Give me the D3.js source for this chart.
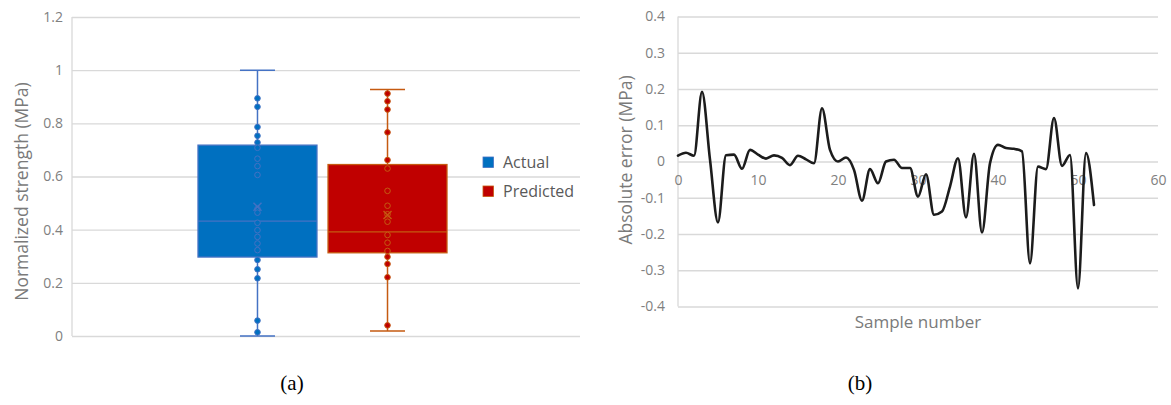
<!DOCTYPE html>
<html>
<head>
<meta charset="utf-8">
<script src="https://cdn.jsdelivr.net/npm/d3@7"></script>
<style>
  body { margin: 0; background: #ffffff; }
  svg { display: block; }
</style>
</head>
<body>
<svg id="fig" width="1171" height="405"></svg>
<script>
// ---------- Panel (a): box plot of normalized strength ----------
const boxSeries = ["Actual", "Predicted"];
const boxMin    = [0.000, 0.019];
const boxQ1     = [0.297, 0.313];
const boxMedian = [0.432, 0.392];
const boxQ3     = [0.718, 0.645];
const boxMax    = [1.000, 0.927];
const boxMean   = [0.486, 0.455];

const actualPoints = [0.894, 0.862, 0.786, 0.753, 0.728, 0.708, 0.667, 0.639, 0.606,
  0.478, 0.464, 0.426, 0.398, 0.373, 0.348, 0.323, 0.286, 0.251, 0.217, 0.058, 0.014];
const predictedPoints = [0.912, 0.883, 0.852, 0.766, 0.662, 0.630, 0.546, 0.490, 0.458,
  0.430, 0.380, 0.351, 0.320, 0.298, 0.271, 0.221, 0.040];

const strengthTicks = [0, 0.2, 0.4, 0.6, 0.8, 1.0, 1.2];
const strengthTickLabels = ["0", "0.2", "0.4", "0.6", "0.8", "1", "1.2"];

// ---------- Panel (b): absolute error per sample ----------
const sampleIndex = d3.range(0, 53);
const errorValues = [
  0.016, 0.024, 0.016, 0.192, 0.005, -0.168, 0.017, 0.019, -0.020, 0.032,
  0.019, 0.008, 0.017, 0.010, -0.010, 0.016, 0.006, -0.005, 0.147, 0.032,
  0.000, 0.011, -0.023, -0.108, -0.021, -0.060, 0.000, 0.005, -0.018, -0.018,
  -0.097, -0.035, -0.147, -0.138, -0.069, 0.009, -0.154, 0.021, -0.196, -0.005,
  0.046, 0.037, 0.035, 0.028, -0.281, -0.014, -0.021, 0.120, -0.012, 0.018,
  -0.350, 0.023, -0.120
];
const errorTicks = [-0.4, -0.3, -0.2, -0.1, 0, 0.1, 0.2, 0.3, 0.4];
const errorTickLabels = ["-0.4", "-0.3", "-0.2", "-0.1", "0", "0.1", "0.2", "0.3", "0.4"];
const sampleTicks = [0, 10, 20, 30, 40, 50, 60];

// ---------- styling ----------
const FONT = "'Open Sans', 'Noto Sans', sans-serif";
const GRID = "#d9d9d9";
const TICK_TEXT = "#808080";
const TITLE_TEXT = "#7a7a7a";
const seriesFill   = ["#0070C0", "#C00000"];
const seriesStroke = ["#4472C4", "#C55A11"];

const svg = d3.select("#fig");
svg.append("rect").attr("width", 1171).attr("height", 405).attr("fill", "#ffffff");

// ======================= Panel (a) =======================
const pa = { left: 72, right: 580, top: 17, bottom: 336 };
const yA = d3.scaleLinear().domain([0, 1.2]).range([pa.bottom, pa.top]);
const xA = d3.scaleBand().domain(boxSeries).range([198, 447]).paddingInner(0.085);

const gA = svg.append("g");

// horizontal gridlines
gA.append("g")
  .attr("transform", `translate(${pa.left},0)`)
  .call(d3.axisRight(yA).tickValues(strengthTicks).tickSize(pa.right - pa.left).tickFormat(""))
  .call(g => g.select(".domain").remove())
  .call(g => g.selectAll("line").attr("stroke", GRID).attr("stroke-width", 1.3));

// vertical axis line
gA.append("line")
  .attr("x1", pa.left).attr("x2", pa.left)
  .attr("y1", yA(1.2)).attr("y2", yA(0))
  .attr("stroke", GRID).attr("stroke-width", 1.3);

// tick labels
gA.append("g")
  .attr("transform", `translate(${pa.left},0)`)
  .call(d3.axisLeft(yA).tickValues(strengthTicks).tickSize(0).tickPadding(9)
    .tickFormat((d, i) => strengthTickLabels[i]))
  .call(g => g.select(".domain").remove())
  .call(g => g.selectAll("text")
    .attr("fill", TICK_TEXT).style("font-family", FONT).style("font-size", "14px"));

// y title
gA.append("text")
  .attr("transform", `translate(28,${(pa.top + pa.bottom) / 2 + 15}) rotate(-90)`)
  .attr("text-anchor", "middle")
  .attr("fill", TITLE_TEXT)
  .style("font-family", FONT).style("font-size", "17.5px")
  .text("Normalized strength (MPa)");

// boxes
boxSeries.forEach((s, i) => {
  const x0 = xA(s), w = xA.bandwidth(), cx = x0 + w / 2;
  const capHalf = 17.5;
  const g = gA.append("g");

  // whiskers
  g.append("line").attr("x1", cx).attr("x2", cx).attr("y1", yA(boxMax[i])).attr("y2", yA(boxQ3[i]))
    .attr("stroke", seriesStroke[i]).attr("stroke-width", 1.5);
  g.append("line").attr("x1", cx).attr("x2", cx).attr("y1", yA(boxQ1[i])).attr("y2", yA(boxMin[i]))
    .attr("stroke", seriesStroke[i]).attr("stroke-width", 1.5);
  g.append("line").attr("x1", cx - capHalf).attr("x2", cx + capHalf)
    .attr("y1", yA(boxMax[i])).attr("y2", yA(boxMax[i]))
    .attr("stroke", seriesStroke[i]).attr("stroke-width", 1.5);
  g.append("line").attr("x1", cx - capHalf).attr("x2", cx + capHalf)
    .attr("y1", yA(boxMin[i])).attr("y2", yA(boxMin[i]))
    .attr("stroke", seriesStroke[i]).attr("stroke-width", 1.5);

  // box
  g.append("rect")
    .attr("x", x0).attr("width", w)
    .attr("y", yA(boxQ3[i])).attr("height", yA(boxQ1[i]) - yA(boxQ3[i]))
    .attr("fill", seriesFill[i]).attr("stroke", seriesStroke[i]).attr("stroke-width", 1.3);

  // median
  g.append("line").attr("x1", x0).attr("x2", x0 + w)
    .attr("y1", yA(boxMedian[i])).attr("y2", yA(boxMedian[i]))
    .attr("stroke", seriesStroke[i]).attr("stroke-width", 1.2);

  // inner points
  const pts = i === 0 ? actualPoints : predictedPoints;
  g.selectAll("circle.pt").data(pts).join("circle")
    .attr("class", "pt")
    .attr("cx", cx).attr("cy", d => yA(d)).attr("r", 2.8)
    .attr("fill", seriesFill[i]).attr("stroke", seriesStroke[i]).attr("stroke-width", 1);

  // mean marker
  const my = yA(boxMean[i]), m = 4;
  g.append("path")
    .attr("d", `M${cx - m},${my - m}L${cx + m},${my + m}M${cx - m},${my + m}L${cx + m},${my - m}`)
    .attr("stroke", seriesStroke[i]).attr("stroke-width", 1.4).attr("fill", "none");
});

// legend
const legend = gA.append("g").attr("transform", "translate(483,157)");
boxSeries.forEach((s, i) => {
  const row = legend.append("g").attr("transform", `translate(0,${i * 29})`);
  row.append("rect").attr("width", 10.5).attr("height", 10.5)
    .attr("fill", seriesFill[i]).attr("stroke", seriesStroke[i]).attr("stroke-width", 0.8);
  row.append("text").attr("x", 20).attr("y", 10.5)
    .attr("fill", "#595959").style("font-family", FONT).style("font-size", "16px")
    .text(s);
});

// ======================= Panel (b) =======================
const pb = { left: 678, right: 1158, top: 16.5, bottom: 306.5 };
const xB = d3.scaleLinear().domain([0, 60]).range([pb.left, pb.right]);
const yB = d3.scaleLinear().domain([-0.4, 0.4]).range([pb.bottom, pb.top]);

const gB = svg.append("g");

gB.append("g")
  .attr("transform", `translate(${pb.left},0)`)
  .call(d3.axisRight(yB).tickValues(errorTicks).tickSize(pb.right - pb.left).tickFormat(""))
  .call(g => g.select(".domain").remove())
  .call(g => g.selectAll("line").attr("stroke", GRID).attr("stroke-width", 1.3));

gB.append("line")
  .attr("x1", pb.left).attr("x2", pb.left)
  .attr("y1", pb.top).attr("y2", pb.bottom)
  .attr("stroke", GRID).attr("stroke-width", 1.3);

gB.append("g")
  .attr("transform", `translate(${pb.left},0)`)
  .call(d3.axisLeft(yB).tickValues(errorTicks).tickSize(0).tickPadding(13)
    .tickFormat((d, i) => errorTickLabels[i]))
  .call(g => g.select(".domain").remove())
  .call(g => g.selectAll("text")
    .attr("fill", TICK_TEXT).style("font-family", FONT).style("font-size", "14px"));

gB.append("g")
  .attr("transform", `translate(0,${yB(0)})`)
  .call(d3.axisBottom(xB).tickValues(sampleTicks).tickSize(0).tickPadding(14)
    .tickFormat(d3.format("d")))
  .call(g => g.select(".domain").remove())
  .call(g => g.selectAll("text")
    .attr("fill", TICK_TEXT).style("font-family", FONT).style("font-size", "14px"));

// smoothed error curve
const line = d3.line()
  .x((d, i) => xB(sampleIndex[i]))
  .y(d => yB(d))
  .curve(d3.curveMonotoneX);

gB.append("path")
  .datum(errorValues)
  .attr("d", line)
  .attr("fill", "none")
  .attr("stroke", "#1c1c1c")
  .attr("stroke-width", 2.6)
  .attr("stroke-linejoin", "round")
  .attr("stroke-linecap", "round");

// titles
gB.append("text")
  .attr("transform", `translate(632,160) rotate(-90)`)
  .attr("text-anchor", "middle")
  .attr("fill", TITLE_TEXT)
  .style("font-family", FONT).style("font-size", "17.5px")
  .text("Absolute error (MPa)");

gB.append("text")
  .attr("x", (pb.left + pb.right) / 2).attr("y", 328)
  .attr("text-anchor", "middle")
  .attr("fill", TITLE_TEXT)
  .style("font-family", FONT).style("font-size", "17px")
  .text("Sample number");

// ---------- sub-figure captions ----------
svg.append("text")
  .attr("x", 292).attr("y", 390).attr("text-anchor", "middle")
  .style("font-family", "'Liberation Serif', 'DejaVu Serif', serif").style("font-size", "21px")
  .attr("fill", "#000").text("(a)");
svg.append("text")
  .attr("x", 860).attr("y", 390).attr("text-anchor", "middle")
  .style("font-family", "'Liberation Serif', 'DejaVu Serif', serif").style("font-size", "21px")
  .attr("fill", "#000").text("(b)");
</script>
</body>
</html>
